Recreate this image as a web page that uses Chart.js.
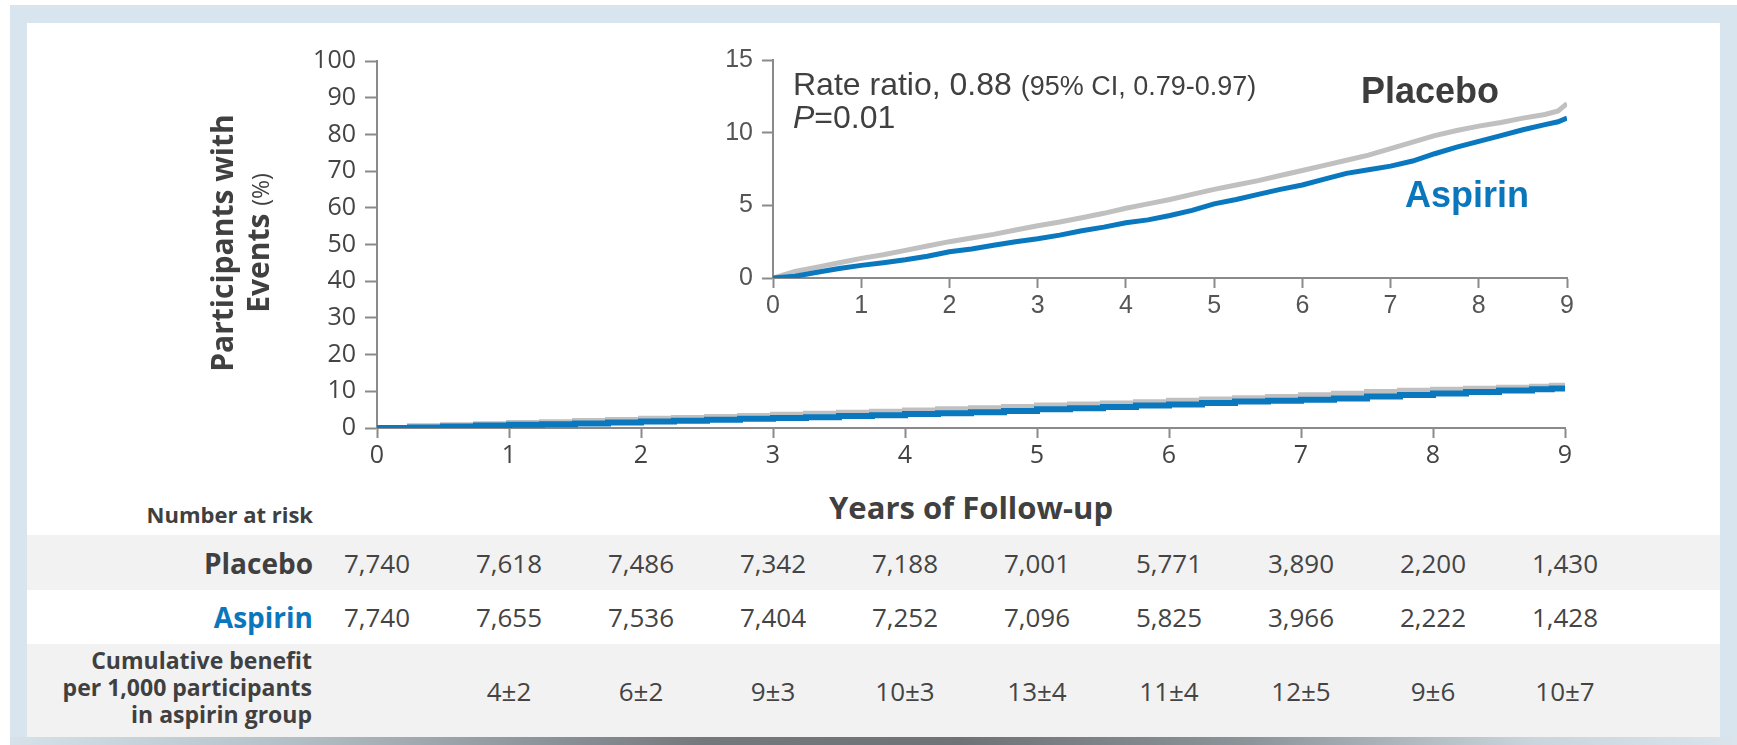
<!DOCTYPE html>
<html>
<head>
<meta charset="utf-8">
<script src="https://cdn.jsdelivr.net/npm/chart.js@4"></script>
<style>
  html, body { margin: 0; padding: 0; background: #fff; }
  #page { position: relative; width: 1737px; height: 745px; overflow: hidden; background: #fff; font-family: "Open Sans", sans-serif; color: #404040; }
  .abs { position: absolute; }
  .band { position: absolute; background: #d9e5ee; }
  .row-bg { position: absolute; left: 27px; width: 1693px; background: #f2f2f2; }
  .lbl { position: absolute; white-space: nowrap; line-height: 1; transform: translateY(-50%); }
  .cell { position: absolute; white-space: nowrap; line-height: 1; transform: translate(-50%, -50%); font-size: 26px; color: #444; }
  canvas { position: absolute; }
</style>
</head>
<body>
<div id="page">
  <div class="band" style="left:10px; top:5px; width:1727px; height:18px;"></div>
  <div class="band" style="left:10px; top:5px; width:17px; height:732px;"></div>
  <div class="band" style="left:1720px; top:5px; width:17px; height:732px;"></div>
  <div class="abs" style="left:10px; top:737px; width:1727px; height:8px; background: linear-gradient(to right, #d6e1e9 0%, #b9c5cd 14%, #74797d 40%, #6e7377 55%, #8d959a 72%, #c9d4dc 88%, #d9e4ec 100%);"></div>
  <div class="abs" style="left:27px; top:23px; width:1693px; height:714px; background:#fff;"></div>

  <div class="row-bg" style="top:535px; height:55px;"></div>
  <div class="row-bg" style="top:644px; height:93px;"></div>

  <canvas id="mainChart" width="1737" height="480" style="left:0; top:0;"></canvas>
  <canvas id="insetChart" width="900" height="310" style="left:700px; top:30px;"></canvas>

  <!-- y axis title -->
  <div class="abs" style="left:240px; top:243px; width:0; height:0;">
    <div style="position:absolute; left:-200px; top:-36px; width:400px; transform: rotate(-90deg); transform-origin: 200px 36px; text-align:center; font-weight:700; font-size:30px; line-height:36px; color:#404040;">
      Participants with<br>Events <span style="font-weight:400; font-size:23px;">(%)</span>
    </div>
  </div>

  <div class="lbl" style="left:971px; top:507px; transform: translate(-50%, -50%); font-weight:700; font-size:31px; color:#404040;">Years of Follow-up</div>

  <!-- inset annotations -->
  <div class="lbl" style="left:793px; top:84px; font-family:'Liberation Sans', Arial, sans-serif; font-size:32px; color:#404040;">Rate ratio, 0.88 <span style="font-size:27px;">(95% CI, 0.79-0.97)</span></div>
  <div class="lbl" style="left:793px; top:117px; font-family:'Liberation Sans', Arial, sans-serif; font-size:32px; color:#404040;"><i>P</i>=0.01</div>
  <div class="lbl" style="left:1361px; top:91px; font-family:'Liberation Sans', Arial, sans-serif; font-weight:700; font-size:36px; color:#3d3d3d;">Placebo</div>
  <div class="lbl" style="left:1405px; top:195px; font-family:'Liberation Sans', Arial, sans-serif; font-weight:700; font-size:36px; color:#0a77bd;">Aspirin</div>

  <!-- risk table labels -->
  <div class="lbl" style="right:1424px; top:514px; font-weight:700; font-size:22px; color:#404040;">Number at risk</div>
  <div class="lbl" style="right:1424px; top:563px; font-weight:700; font-size:28px; color:#404040;">Placebo</div>
  <div class="lbl" style="right:1424px; top:617px; font-weight:700; font-size:28px; color:#0a77bd;">Aspirin</div>
  <div class="abs" style="right:1425px; top:647px; text-align:right; font-weight:700; font-size:23px; line-height:27px; color:#404040; white-space:nowrap;">Cumulative benefit<br>per 1,000 participants<br>in aspirin group</div>

  <div id="table"></div>
</div>

<script>
// Kaplan-Meier curves, cumulative % with events
const years = [0, 0.25, 0.5, 0.75, 1, 1.25, 1.5, 1.75, 2, 2.25, 2.5, 2.75, 3, 3.25, 3.5, 3.75, 4, 4.25, 4.5, 4.75,
               5, 5.25, 5.5, 5.75, 6, 6.25, 6.5, 6.75, 7, 7.25, 7.5, 7.75, 8, 8.25, 8.5, 8.75, 8.9, 9];
const placeboPct = [0, 0.45, 0.75, 1.05, 1.35, 1.6, 1.9, 2.2, 2.5, 2.75, 3.0, 3.3, 3.6, 3.85, 4.15, 4.45, 4.8, 5.1, 5.4, 5.75,
                    6.1, 6.4, 6.7, 7.05, 7.4, 7.75, 8.1, 8.45, 8.9, 9.35, 9.8, 10.15, 10.45, 10.7, 11.0, 11.25, 11.5, 12.0];
const aspirinPct = [0, 0.12, 0.4, 0.65, 0.87, 1.05, 1.25, 1.5, 1.8, 2.0, 2.25, 2.5, 2.7, 2.95, 3.25, 3.5, 3.8, 4.0, 4.3, 4.65,
                    5.1, 5.4, 5.75, 6.1, 6.4, 6.8, 7.2, 7.45, 7.7, 8.05, 8.55, 9.0, 9.4, 9.8, 10.2, 10.55, 10.75, 11.0];

// number at risk table
const tableYears = [0, 1, 2, 3, 4, 5, 6, 7, 8, 9];
const placeboAtRisk = ['7,740', '7,618', '7,486', '7,342', '7,188', '7,001', '5,771', '3,890', '2,200', '1,430'];
const aspirinAtRisk = ['7,740', '7,655', '7,536', '7,404', '7,252', '7,096', '5,825', '3,966', '2,222', '1,428'];
const benefit = ['', '4±2', '6±2', '9±3', '10±3', '13±4', '11±4', '12±5', '9±6', '10±7'];

const placeboColor = '#c0c0c0';
const aspirinColor = '#0a78be';
const axisColor = '#8a8a8a';

function toPoints(ys) {
    return years.map((x, i) => ({ x: x, y: ys[i] }));
}

function makeDatasets(width, stepped) {
    return [
        { label: 'Aspirin', data: toPoints(aspirinPct), borderColor: aspirinColor, borderWidth: width, stepped: stepped, order: 0 },
        { label: 'Placebo', data: toPoints(placeboPct), borderColor: placeboColor, borderWidth: width, stepped: stepped, order: 1 }
    ];
}

const mainFont = { family: 'Open Sans', size: 25 };
const insetFont = { family: 'Liberation Sans', size: 25 };

const mainChart = new Chart(document.getElementById('mainChart'), {
    type: 'line',
    data: { datasets: makeDatasets(6, true) },
    options: {
        responsive: false,
        animation: false,
        layout: { padding: { left: 0, right: 172, top: 61, bottom: 0 }, autoPadding: false },
        plugins: { legend: { display: false }, tooltip: { enabled: false } },
        elements: { point: { radius: 0 }, line: { borderCapStyle: 'butt' } },
        scales: {
            x: {
                type: 'linear', min: 0, max: 9,
                ticks: { stepSize: 1, font: mainFont, color: '#444', padding: 3 },
                grid: { drawOnChartArea: false, drawTicks: true, tickLength: 10, tickColor: axisColor, tickWidth: 2 },
                border: { color: axisColor, width: 2 },
                afterFit: (s) => { s.height = 52; }
            },
            y: {
                min: 0, max: 100,
                ticks: { stepSize: 10, font: mainFont, color: '#444', padding: 9 },
                grid: { drawOnChartArea: false, drawTicks: true, tickLength: 12, tickColor: axisColor, tickWidth: 2 },
                border: { color: axisColor, width: 2 },
                afterFit: (s) => { s.width = 377; }
            }
        }
    }
});

new Chart(document.getElementById('insetChart'), {
    type: 'line',
    data: { datasets: makeDatasets(5, false) },
    options: {
        responsive: false,
        animation: false,
        layout: { padding: { left: 0, right: 33, top: 30, bottom: 0 }, autoPadding: false },
        plugins: { legend: { display: false }, tooltip: { enabled: false } },
        elements: { point: { radius: 0 }, line: { tension: 0 } },
        scales: {
            x: {
                type: 'linear', min: 0, max: 9,
                ticks: { stepSize: 1, font: insetFont, color: '#555', padding: 3 },
                grid: { drawOnChartArea: false, drawTicks: true, tickLength: 10, tickColor: axisColor, tickWidth: 2 },
                border: { color: axisColor, width: 2 },
                afterFit: (s) => { s.height = 62; }
            },
            y: {
                min: 0, max: 15,
                ticks: { stepSize: 5, font: insetFont, color: '#555', padding: 9 },
                grid: { drawOnChartArea: false, drawTicks: true, tickLength: 11, tickColor: axisColor, tickWidth: 2 },
                border: { color: axisColor, width: 2 },
                afterFit: (s) => { s.width = 73; }
            }
        }
    }
});

// number-at-risk cells lined up with the main x axis
const table = document.getElementById('table');
function addCell(text, x, y) {
    if (!text) return;
    const d = document.createElement('div');
    d.className = 'cell';
    d.style.left = x + 'px';
    d.style.top = y + 'px';
    d.textContent = text;
    table.appendChild(d);
}
tableYears.forEach((yr, i) => {
    const x = mainChart.scales.x.getPixelForValue(yr);
    addCell(placeboAtRisk[i], x, 563);
    addCell(aspirinAtRisk[i], x, 617);
    addCell(benefit[i], x, 691);
});
</script>
</body>
</html>
